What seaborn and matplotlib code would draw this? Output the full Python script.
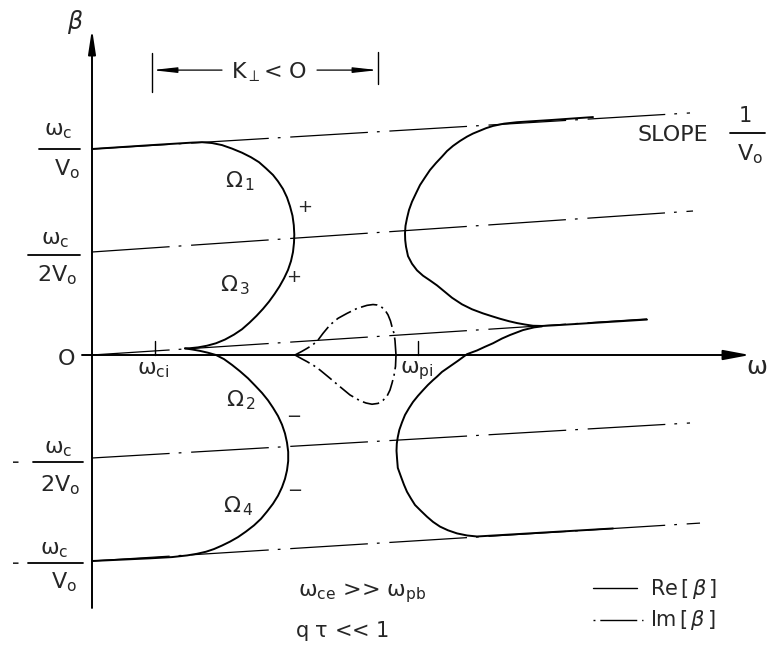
import matplotlib
matplotlib.use("Agg")
import matplotlib.pyplot as plt
import seaborn as sns

# ---- dispersion diagram data (omega in plot units, beta in units of wc/V0) ----
# resonance lines beta = (omega + n*wc)/V0, drawn from the beta axis to their end
levels = [1.0, 0.5, 0.0, -0.5, -1.0]
line_end_w = [5.98, 6.01, 5.55, 5.98, 6.08]
line_end_b = [1.175, 0.699, 0.175, -0.330, -0.816]

# Re[beta], left branches (Omega1, Omega3 above the cusp; Omega2, Omega4 below)
re_left_upper_w = [0.00, 0.60, 1.00, 1.10, 1.20, 1.30, 1.40, 1.50, 1.59, 1.67, 1.74,
                   1.81, 1.86, 1.91, 1.95, 1.98, 2.005, 2.018, 2.023, 2.02, 2.01, 1.99,
                   1.96, 1.92, 1.875, 1.825, 1.77, 1.71, 1.645, 1.575, 1.50, 1.42, 1.33,
                   1.24, 1.15, 1.06, 0.98, 0.93]
re_left_upper_b = [1.000, 1.019, 1.031, 1.033, 1.029, 1.019, 1.002, 0.982, 0.960, 0.936,
                   0.906, 0.874, 0.843, 0.806, 0.765, 0.722, 0.676, 0.630, 0.585, 0.545,
                   0.500, 0.456, 0.413, 0.372, 0.333, 0.296, 0.259, 0.224, 0.190, 0.157,
                   0.125, 0.099, 0.075, 0.057, 0.045, 0.037, 0.033, 0.032]
re_left_lower_w = [0.93, 1.00, 1.08, 1.16, 1.24, 1.32, 1.40, 1.48, 1.56, 1.63, 1.70,
                   1.76, 1.81, 1.86, 1.90, 1.93, 1.95, 1.962, 1.962, 1.95, 1.93, 1.90,
                   1.86, 1.81, 1.75, 1.69, 1.62, 1.54, 1.46, 1.38, 1.30, 1.22, 1.14,
                   1.05, 0.95, 0.80, 0.58, 0.00]
re_left_lower_b = [0.032, 0.027, 0.020, 0.011, 0.000, -0.020, -0.048, -0.079, -0.113,
                   -0.148, -0.184, -0.220, -0.256, -0.296, -0.338, -0.381, -0.425, -0.470,
                   -0.515, -0.560, -0.601, -0.642, -0.683, -0.722, -0.760, -0.795, -0.827,
                   -0.857, -0.884, -0.906, -0.925, -0.942, -0.955, -0.965, -0.973, -0.981,
                   -0.987, -1.000]

# Re[beta], right branches
re_right_upper_w = [5.01, 4.60, 4.25, 4.12, 4.01, 3.94, 3.88, 3.81, 3.75, 3.68, 3.61,
                    3.55, 3.50, 3.44, 3.38, 3.33, 3.28, 3.24, 3.20, 3.17, 3.15, 3.135,
                    3.13, 3.132, 3.14, 3.16, 3.20, 3.25, 3.31, 3.38, 3.45, 3.52, 3.60,
                    3.70, 3.80, 3.91, 4.00, 4.08, 4.17, 4.25, 4.33, 4.41, 4.50, 4.62, 5.55]
re_right_upper_b = [1.155, 1.141, 1.130, 1.123, 1.112, 1.101, 1.089, 1.075, 1.060, 1.039,
                    1.015, 0.990, 0.963, 0.932, 0.898, 0.862, 0.825, 0.785, 0.744, 0.704,
                    0.664, 0.627, 0.591, 0.558, 0.526, 0.480, 0.443, 0.411, 0.385, 0.362,
                    0.338, 0.310, 0.278, 0.246, 0.222, 0.202, 0.188, 0.176, 0.164, 0.155,
                    0.148, 0.142, 0.141, 0.144, 0.172]
re_right_lower_w = [4.50, 4.42, 4.31, 4.18, 4.10, 4.01, 3.93, 3.85, 3.75, 3.66, 3.58,
                    3.50, 3.45, 3.41, 3.36, 3.31, 3.26, 3.21, 3.17, 3.13, 3.10, 3.073,
                    3.058, 3.048, 3.045, 3.05, 3.058, 3.09, 3.12, 3.15, 3.19, 3.23, 3.29,
                    3.35, 3.41, 3.48, 3.56, 3.65, 3.75, 3.85, 5.21]
re_right_lower_b = [0.139, 0.134, 0.121, 0.097, 0.080, 0.057, 0.040, 0.022, 0.004, -0.028,
                    -0.055, -0.082, -0.105, -0.122, -0.145, -0.171, -0.198, -0.228, -0.258,
                    -0.291, -0.327, -0.364, -0.398, -0.430, -0.465, -0.500, -0.548, -0.591,
                    -0.630, -0.664, -0.697, -0.728, -0.757, -0.785, -0.810, -0.833, -0.851,
                    -0.866, -0.876, -0.881, -0.842]

# Im[beta] loop
im_upper_w = [2.03, 2.10, 2.15, 2.20, 2.25, 2.31, 2.38, 2.46, 2.55, 2.65, 2.75, 2.81,
              2.85, 2.89, 2.93, 2.96, 2.985, 3.00, 3.02, 3.03, 3.04]
im_upper_b = [0.000, 0.018, 0.032, 0.047, 0.066, 0.105, 0.146, 0.178, 0.202, 0.226,
              0.241, 0.245, 0.243, 0.235, 0.218, 0.195, 0.165, 0.137, 0.105, 0.070, 0.000]
im_lower_w = [2.03, 2.10, 2.15, 2.22, 2.28, 2.38, 2.48, 2.58, 2.68, 2.74, 2.80, 2.86,
              2.91, 2.95, 2.98, 3.00, 3.02, 3.035, 3.04]
im_lower_b = [0.000, -0.019, -0.032, -0.052, -0.073, -0.113, -0.154, -0.194, -0.222,
              -0.233, -0.239, -0.235, -0.220, -0.200, -0.170, -0.137, -0.100, -0.055, 0.000]

# marked frequencies on the omega axis
freq_marks = [0.63, 3.26]
freq_labels = [r"$\omega_{ci}$", r"$\omega_{pi}$"]
# region where K_perp < 0
kperp_band = [0.60, 2.86]

# ---- style ----
sns.set_theme(style="white")
plt.rcParams.update({
    "font.family": ["DejaVu Sans"],
    "mathtext.fontset": "custom",
    "mathtext.rm": "DejaVu Sans",
    "mathtext.it": "DejaVu Sans",
    "mathtext.sf": "DejaVu Sans:italic",
    "lines.scale_dashes": False,
    "lines.solid_capstyle": "round",
    "lines.solid_joinstyle": "round",
})

fig = plt.figure(figsize=(7.68, 6.66), dpi=100)
ax = fig.add_axes([0, 0, 1, 1])
ax.set_xlim(-0.92, 6.76)
ax.set_ylim(-1.5097, 1.7233)
ax.axis("off")

K = "black"
DASHDOT_LONG = (0, (56, 6.5, 2, 7))
DASHDOT_SHORT = (0, (12, 3.2, 1.5, 3.2))


def trace(w, b, style="-", lw=1.4):
    sns.lineplot(x=w, y=b, sort=False, estimator=None, ax=ax, color=K,
                 lw=lw, linestyle=style, legend=False)


# resonance lines (dash-dot)
for lev, we, be in zip(levels, line_end_w, line_end_b):
    trace([0.0, we], [lev, be], style=DASHDOT_LONG, lw=0.9)

# Re[beta] curves
trace(re_left_upper_w, re_left_upper_b)
trace(re_left_lower_w, re_left_lower_b)
trace(re_right_upper_w, re_right_upper_b)
trace(re_right_lower_w, re_right_lower_b)

# Im[beta] loop
trace(im_upper_w, im_upper_b, style=DASHDOT_SHORT, lw=1.2)
trace(im_lower_w, im_lower_b, style=DASHDOT_SHORT, lw=1.2)

# axes with arrow heads
ax.annotate("", xy=(6.58, 0), xytext=(-0.10, 0),
            arrowprops=dict(arrowstyle="-|>,head_length=1.6,head_width=0.3",
                            mutation_scale=10, lw=1.4, color=K, shrinkA=0, shrinkB=0))
ax.annotate("", xy=(0, 1.583), xytext=(0, -1.228),
            arrowprops=dict(arrowstyle="-|>,head_length=1.45,head_width=0.22",
                            mutation_scale=10, lw=1.4, color=K, shrinkA=0, shrinkB=0))

# frequency ticks and labels
for f, lab in zip(freq_marks, freq_labels):
    ax.plot([f, f], [0.0, 0.068], color=K, lw=1.0)
    ax.text(f - 0.18, -0.075, lab, fontsize=16, ha="left", va="center")

# K_perp < 0 band
y_k = 1.383
for xb, (y0, y1) in zip(kperp_band, [(1.277, 1.466), (1.316, 1.471)]):
    ax.plot([xb, xb], [y0, y1], color=K, lw=1.0)
ax.annotate("", xy=(kperp_band[0], y_k), xytext=(1.30, y_k),
            arrowprops=dict(arrowstyle="-|>,head_length=1.45,head_width=0.16",
                            mutation_scale=10, lw=0.9, color=K, shrinkA=0, shrinkB=0))
ax.annotate("", xy=(kperp_band[1], y_k), xytext=(2.25, y_k),
            arrowprops=dict(arrowstyle="-|>,head_length=1.45,head_width=0.16",
                            mutation_scale=10, lw=0.9, color=K, shrinkA=0, shrinkB=0))
ax.text(1.77, 1.375, r"K$_{\perp}$< O", fontsize=16, ha="center", va="center")

# axis labels
ax.text(-0.17, 1.617, "β", fontsize=17, style="italic", ha="center", va="center")
ax.text(6.65, -0.06, r"$\omega$", fontsize=18, ha="center", va="center")
ax.text(-0.26, -0.02, "O", fontsize=16, ha="center", va="center")


def fraction(xc, yc, top, bottom, x0, x1, dy_top, dy_bot, size=16):
    ax.plot([x0, x1], [yc, yc], color=K, lw=1.3)
    ax.text(xc[0], yc + dy_top, top, fontsize=size, ha="center", va="center")
    ax.text(xc[1], yc - dy_bot, bottom, fontsize=size, ha="center", va="center")


fraction((-0.335, -0.255), 1.000, r"$\omega_{c}$", r"$V_{o}$", -0.53, -0.12, 0.087, 0.10)
fraction((-0.37, -0.35), 0.485, r"$\omega_{c}$", r"$2V_{o}$", -0.64, -0.12, 0.073, 0.097)
fraction((-0.34, -0.32), -0.519, r"$\omega_{c}$", r"$2V_{o}$", -0.59, -0.09, 0.063, 0.112)
fraction((-0.38, -0.285), -1.010, r"$\omega_{c}$", r"$V_{o}$", -0.64, -0.09, 0.063, 0.092)
ax.text(-0.76, -0.519, "-", fontsize=15, ha="center", va="center")
ax.text(-0.76, -1.010, "-", fontsize=15, ha="center", va="center")

# branch labels and signs
for xl, yl, s in [(1.33, 0.845, r"$\Omega_{\,1}$"), (1.28, 0.34, r"$\Omega_{\,3}$"),
                  (1.34, -0.218, r"$\Omega_{\,2}$"), (1.31, -0.733, r"$\Omega_{\,4}$")]:
    ax.text(xl, yl, s, fontsize=16, ha="left", va="center")
for xs, ys, s in [(2.13, 0.718, "+"), (2.02, 0.379, "+"),
                  (2.02, -0.301, "−"), (2.03, -0.66, "−")]:
    ax.text(xs, ys, s, fontsize=13, ha="center", va="center")

# slope note
ax.text(5.805, 1.070, "SLOPE", fontsize=16, ha="center", va="center")
ax.plot([6.38, 6.73], [1.078, 1.078], color=K, lw=1.3)
ax.text(6.53, 1.16, "1", fontsize=15, ha="center", va="center")
ax.text(6.58, 0.975, r"$V_{o}$", fontsize=16, ha="center", va="center")

# conditions
ax.text(2.70, -1.155, r"$\omega_{ce}$ >> $\omega_{pb}$", fontsize=16, ha="center", va="center")
ax.text(2.50, -1.34, r"q $\tau$ << 1", fontsize=15, ha="center", va="center")

# key
ax.plot([5.01, 5.45], [-1.131, -1.131], color=K, lw=1.0)
ax.plot([5.01, 5.51], [-1.286, -1.286], color=K, lw=1.0,
        linestyle=(0, (1.4, 3.5, 26.6, 3.5, 1.4, 40)))
ax.text(5.58, -1.136, r"Re$\,[\,\mathsf{\beta}\,]$", fontsize=15, ha="left", va="center")
ax.text(5.58, -1.286, r"Im$\,[\,\mathsf{\beta}\,]$", fontsize=15, ha="left", va="center")

fig.savefig("out.png", dpi=100, facecolor="white")
